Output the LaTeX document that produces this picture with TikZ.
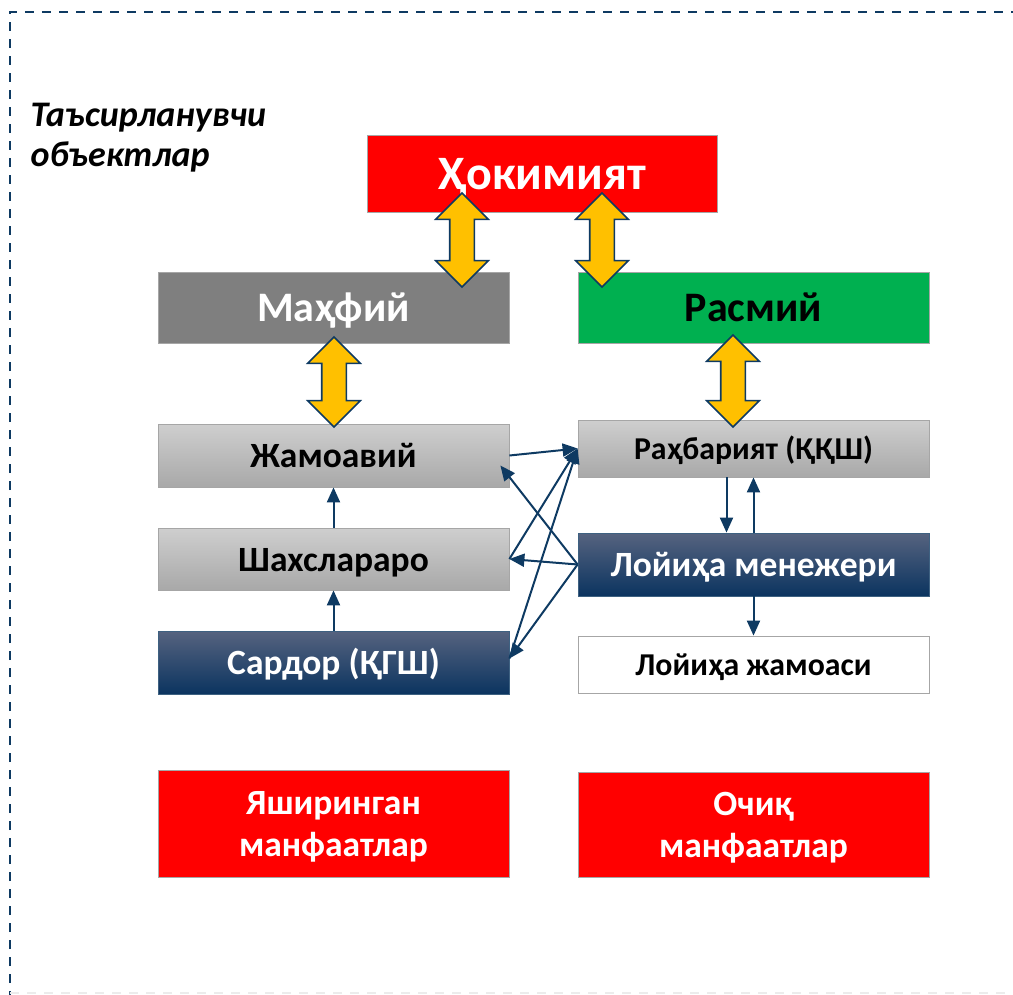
\documentclass[tikz,border=0pt]{standalone}
\usepackage{fontspec}
\setmainfont{Carlito}
\usetikzlibrary{arrows.meta,shapes.arrows}
\definecolor{navy}{HTML}{0E3A62}
\definecolor{navytop}{HTML}{56637F}
\definecolor{navybot}{HTML}{0B3460}
\definecolor{gold}{HTML}{FFC000}
\definecolor{hred}{HTML}{FF0000}
\definecolor{mgray}{HTML}{7F7F7F}
\definecolor{rgreen}{HTML}{00B050}
\definecolor{frame}{HTML}{A6A6A6}
\newcommand\boxstrut{\rule[-0.21em]{0pt}{1.1em}}

\begin{document}
\begin{tikzpicture}[x=1pt,y=-1pt,
  box/.style={draw=frame, line width=0.8pt, minimum width=351pt, inner sep=0pt, font=\bfseries},
  redbox/.style={box, fill=hred, text=white},
  greybox/.style={box, top color=gray!38, bottom color=gray!68},
  navybox/.style={box, draw=navy!80, top color=navytop, bottom color=navybot, text=white},
  link/.style={draw=navy, line width=2pt, -{Triangle[length=15pt,width=13pt]}},
  yarrow/.style={double arrow, draw=navy, line width=1.6pt, fill=gold, rotate=90,
    minimum height=94pt, minimum width=51pt, inner xsep=0pt, inner ysep=11.5pt,
    double arrow head extend=14pt}]
  \useasboundingbox (0,0) rectangle (1013,995);
%    frame
  \draw[navy, line width=1.5pt, dash pattern=on 9pt off 8pt] (10,1000)--(10,12)--(1020,12);
  \draw[gray!15, line width=1.5pt, dash pattern=on 9pt off 8pt] (10,993)--(1013,993);
  \node[anchor=north west, align=left, font=\bfseries\itshape\fontsize{36}{40}\selectfont] (obj) at (27,100) {Таъсирланувчи\\объектлар};
%    top row
  \node[redbox, minimum width=350pt, minimum height=77pt, font=\bfseries\fontsize{48}{52}\selectfont] (hok) at (542,173.5) {\boxstrut Ҳокимият};
  \node[box, fill=mgray, text=white, minimum height=71pt, font=\bfseries\fontsize{42}{46}\selectfont] (mah) at (333.5,307.5) {\boxstrut Маҳфий};
  \node[box, fill=rgreen, minimum height=71pt, font=\bfseries\fontsize{42}{46}\selectfont] (ras) at (753.5,307.5) {\boxstrut Расмий};
%    left column
  \node[greybox, minimum height=63pt, font=\bfseries\fontsize{35.5}{40}\selectfont] (jam) at (333.5,455.5) {\boxstrut Жамоавий};
  \node[greybox, minimum height=62pt, font=\bfseries\fontsize{35.5}{40}\selectfont] (shx) at (333.5,559) {\boxstrut Шахслараро};
  \node[navybox, minimum height=63pt, font=\bfseries\fontsize{35.5}{40}\selectfont] (sar) at (333.5,662.5) {\boxstrut Сардор (ҚГШ)};
%    right column
  \node[greybox, minimum height=57pt, font=\bfseries\fontsize{31.8}{36}\selectfont] (rah) at (753.5,448.5) {\boxstrut Раҳбарият (ҚҚШ)};
  \node[navybox, minimum height=63pt, font=\bfseries\fontsize{35.5}{40}\selectfont] (lm) at (753.5,564.5) {\boxstrut Лойиҳа менежери};
  \node[box, fill=white, minimum height=57pt, font=\bfseries\fontsize{31.8}{36}\selectfont] (lj) at (753.5,664.5) {\boxstrut Лойиҳа жамоаси};
%    interests
  \node[redbox, minimum height=107pt, align=center, font=\bfseries\fontsize{35.5}{42}\selectfont] (yash) at (333.5,823.5) {\boxstrut Яширинган\\манфаатлар\boxstrut};
  \node[redbox, minimum height=105pt, align=center, font=\bfseries\fontsize{35.5}{42}\selectfont] (och) at (753.5,824.5) {\boxstrut Очиқ\\манфаатлар\boxstrut};
%    yellow arrows
  \node[yarrow] (y1) at (462,240) {};
  \node[yarrow] (y2) at (602,240) {};
  \node[yarrow, minimum height=90pt] (y3) at (334,382) {};
  \node[yarrow, minimum height=92pt] (y4) at (733,381) {};
%    links
  \draw[link] (sar.north) -- (shx.south);
  \draw[link] (shx.north) -- (jam.south);
  \draw[link] ([xshift=-27pt]rah.south) -- ([xshift=-27pt]lm.north);
  \draw[link] (lm.north) -- (rah.south);
  \draw[link] (lm.south) -- (lj.north);
  \draw[link] (jam.east) -- (rah.west);
  \draw[link] (shx.east) -- (rah.west);
  \draw[link] ([yshift=4pt]sar.east) -- (rah.west);
  \draw[link] (lm.west) -- ([xshift=-9pt,yshift=-10pt]jam.east);
  \draw[link] (lm.west) -- (shx.east);
  \draw[link] (lm.west) -- ([yshift=4pt]sar.east);
\end{tikzpicture}
\end{document}
